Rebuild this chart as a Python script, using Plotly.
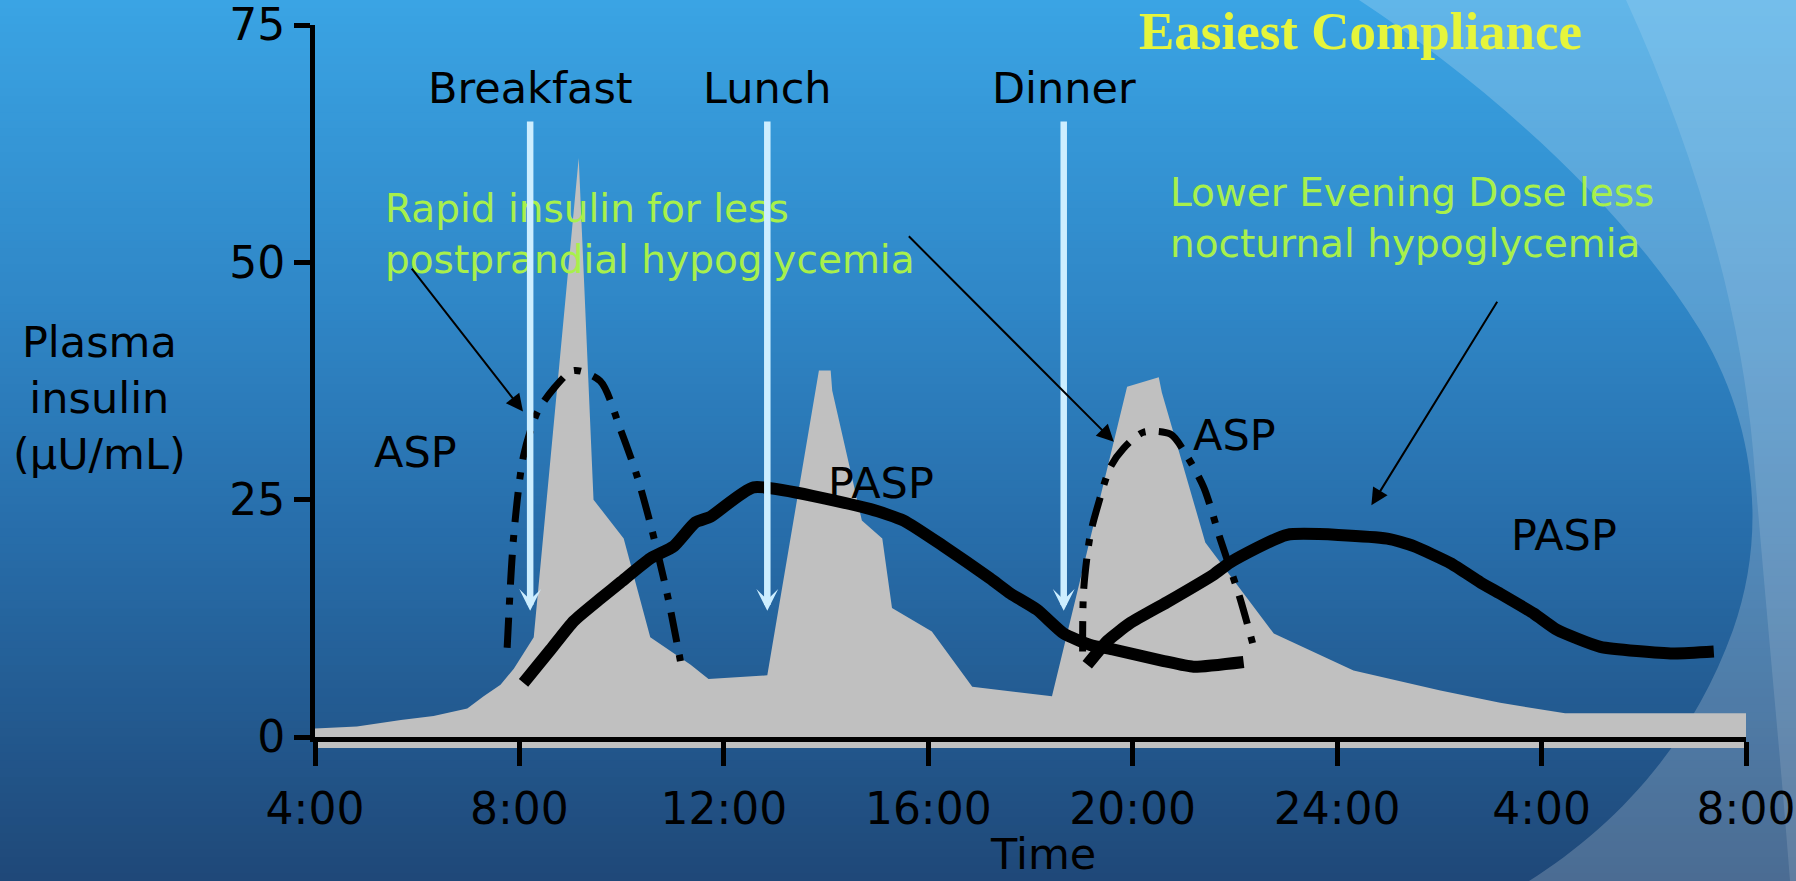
import plotly.graph_objects as go

# ---- time axis: hours from 04:00 (4) to 08:00 the next morning (32) ----
TICK_HOURS = [4, 8, 12, 16, 20, 24, 28, 32]
TICK_TEXT = ["4:00", "8:00", "12:00", "16:00", "20:00", "24:00", "4:00", "8:00"]
Y_TICKS = [0, 25, 50, 75]

# physiological plasma insulin profile (grey area), µU/mL
phys_hours = [4.00, 4.82, 5.68, 6.32, 6.98, 7.30, 7.63, 7.89, 8.28, 9.16, 9.45,
              10.04, 10.56, 11.35, 11.70, 12.85, 13.86, 14.09, 14.12, 14.70,
              15.10, 15.29, 16.07, 16.86, 18.42, 19.89, 20.51, 20.57, 21.42,
              22.76, 24.32, 26.02, 27.19, 28.46, 32.00]
phys_insulin = [0.9, 1.1, 1.8, 2.2, 3.0, 4.3, 5.5, 7.2, 10.5, 61.0, 25.0,
                20.9, 10.5, 7.6, 6.1, 6.5, 38.6, 38.6, 36.5, 22.8,
                20.9, 13.6, 11.1, 5.3, 4.3, 36.9, 37.9, 36.3, 20.5,
                10.9, 7.0, 4.9, 3.6, 2.5, 2.5]

# PASP (premixed aspart), morning dose
pasp_am_hours = [8.08, 8.61, 9.06, 9.59, 9.98, 10.56, 11.02, 11.44, 11.74, 12.58,
                 14.87, 15.52, 16.30, 17.21, 17.61, 18.13, 18.65, 19.17, 19.63,
                 20.61, 21.19, 22.17]
pasp_am_insulin = [5.7, 9.2, 12.2, 14.6, 16.3, 18.8, 20.1, 22.6, 23.2, 26.3,
                   24.0, 22.8, 20.1, 16.7, 15.1, 13.4, 10.9, 9.7, 9.2,
                   8.0, 7.4, 7.9]

# PASP, evening dose
pasp_pm_hours = [19.11, 19.50, 19.95, 20.67, 21.58, 21.91, 23.02, 24.98, 25.50,
                 26.22, 26.80, 27.19, 27.85, 28.30, 29.15, 30.58, 31.37]
pasp_pm_insulin = [7.6, 10.1, 12.0, 14.2, 17.1, 18.4, 21.3, 20.9, 20.1,
                   18.3, 16.3, 15.1, 13.0, 11.3, 9.5, 8.8, 9.0]

# ASP (aspart), breakfast dose
asp_am_hours = [7.76, 7.89, 8.08, 8.35, 8.67, 9.06, 9.58, 9.97, 10.30, 10.56,
                10.89, 11.15]
asp_am_insulin = [9.4, 21.3, 29.6, 34.2, 36.7, 38.6, 37.5, 32.5, 27.5, 22.5,
                  15.1, 8.0]

# ASP, dinner dose
asp_pm_hours = [19.02, 19.04, 19.17, 19.33, 19.56, 19.82, 20.21, 20.74, 21.06,
                21.39, 21.71, 22.10, 22.40]
asp_pm_insulin = [9.0, 15.5, 21.3, 24.6, 28.4, 30.4, 32.1, 31.9, 29.6,
                  26.3, 20.9, 14.6, 8.8]

# meals
meal_names = ["Breakfast", "Lunch", "Dinner"]
meal_hours = [8.21, 12.85, 18.65]
meal_arrow_top = 65.0
meal_arrow_tip = 13.3
meal_label_level = 68.4

# curve labels
curve_labels = ["ASP", "PASP", "ASP", "PASP"]
curve_label_hours = [5.96, 15.08, 22.0, 28.43]
curve_label_levels = [30.0, 26.8, 31.8, 21.3]

# callouts: text, text anchor (hour, level), arrow tail and tip (hour, level)
callout_texts = ["Rapid insulin for less<br>postprandial hypoglycemia",
                 "Lower Evening Dose less<br>nocturnal hypoglycemia"]
callout_pos = [(5.34, 53.0), (20.70, 54.7)]
pointer_tails = [(5.87, 49.5), (15.59, 52.9), (27.15, 46.0)]
pointer_tips = [(8.07, 34.3), (19.63, 31.1), (24.67, 24.4)]

# ---- page geometry ----
W, H = 1796, 881
ML, MR, MT, MB = 315, 50, 25, 144
PW, PH = W - ML - MR, H - MT - MB

BLACK_FONT = "DejaVu Sans"
GREEN = "#a8f04b"


def px_to_paper(px, py):
    """Canvas pixel (origin top-left) to paper coordinates, for backdrop art."""
    return (px - ML) / PW, (H - MB - py) / PH


def lerp_color(stops, t):
    for (t0, c0), (t1, c1) in zip(stops, stops[1:]):
        if t0 <= t <= t1:
            f = (t - t0) / (t1 - t0)
            return "rgb(%d,%d,%d)" % tuple(round(a + (b - a) * f) for a, b in zip(c0, c1))
    return "rgb(%d,%d,%d)" % stops[-1][1]


fig = go.Figure()

# physiological profile
fig.add_trace(go.Scatter(
    x=phys_hours, y=phys_insulin, mode="lines", fill="tozeroy",
    fillcolor="#c0c0c0", line=dict(color="#c0c0c0", width=0),
    hoverinfo="skip", showlegend=False))

# PASP curves (thick solid)
for hx, hy in [(pasp_am_hours, pasp_am_insulin), (pasp_pm_hours, pasp_pm_insulin)]:
    fig.add_trace(go.Scatter(
        x=hx, y=hy, mode="lines",
        line=dict(color="black", width=12, shape="spline", smoothing=0.5),
        showlegend=False, hoverinfo="skip"))

# ASP curves (dash-dot)
for hx, hy in [(asp_am_hours, asp_am_insulin), (asp_pm_hours, asp_pm_insulin)]:
    fig.add_trace(go.Scatter(
        x=hx, y=hy, mode="lines",
        line=dict(color="black", width=7, shape="spline", smoothing=0.8,
                  dash="30px,13px,7px,13px"),
        showlegend=False, hoverinfo="skip"))

# ---- backdrop: vertical gradient plus light swooshes on the right ----
shapes = []
stops = [(0.0, (58, 164, 228)), (0.35, (47, 134, 198)), (0.62, (39, 108, 168)),
         (1.0, (31, 72, 120))]
n_bands = 110
for i in range(n_bands):
    top = H * i / n_bands
    bot = H * (i + 1) / n_bands + 1
    x0, y0 = px_to_paper(0, bot)
    x1, y1 = px_to_paper(W, top)
    shapes.append(dict(type="rect", xref="paper", yref="paper", x0=x0, x1=x1,
                       y0=y0, y1=y1, layer="below", line=dict(width=0),
                       fillcolor=lerp_color(stops, (i + 0.5) / n_bands)))


def path_from(points):
    out = []
    for cmd, pts in points:
        coords = " ".join("%.5f,%.5f" % px_to_paper(*p) for p in pts)
        out.append(cmd + coords)
    return " ".join(out) + " Z"


swoosh_outer = [("M", [(1359, 0)]),
                ("C", [(1480, 80), (1620, 200), (1700, 330)]),
                ("C", [(1760, 430), (1765, 540), (1733, 630)]),
                ("C", [(1690, 750), (1610, 830), (1529, 881)]),
                ("L", [(1796, 881)]), ("L", [(1796, 0)])]
swoosh_band = [("M", [(1626, 0)]),
               ("C", [(1690, 140), (1740, 300), (1753, 450)]),
               ("C", [(1765, 600), (1780, 750), (1790, 881)]),
               ("L", [(1796, 881)]), ("L", [(1796, 0)])]
shapes.append(dict(type="path", xref="paper", yref="paper", path=path_from(swoosh_outer),
                   fillcolor="rgba(255,255,255,0.2)", line=dict(width=0), layer="below"))
shapes.append(dict(type="path", xref="paper", yref="paper", path=path_from(swoosh_band),
                   fillcolor="rgba(255,255,255,0.12)", line=dict(width=0), layer="below"))

# grey base strip just under the time axis
shapes.append(dict(type="rect", xref="paper", yref="paper", x0=0, x1=1,
                   y0=-11.0 / PH, y1=0, fillcolor="#c0c0c0", line=dict(width=0),
                   layer="below"))

annotations = []

# green callout texts
for txt, (cx, cy) in zip(callout_texts, callout_pos):
    annotations.append(dict(x=cx, y=cy, xref="x", yref="y", text=txt, showarrow=False,
                            xanchor="left", yanchor="middle", align="left",
                            font=dict(family=BLACK_FONT, size=39, color=GREEN)))

# meal arrows and labels
for name, mh in zip(meal_names, meal_hours):
    annotations.append(dict(x=mh, y=meal_arrow_tip, ax=mh, ay=meal_arrow_top,
                            xref="x", yref="y", axref="x", ayref="y", text="",
                            showarrow=True, arrowhead=3, arrowsize=0.56,
                            arrowwidth=6.5, arrowcolor="#cdeeff", standoff=0))
    annotations.append(dict(x=mh, y=meal_label_level, xref="x", yref="y", text=name,
                            showarrow=False, xanchor="center", yanchor="middle",
                            font=dict(family=BLACK_FONT, size=43, color="black")))

# curve labels
for lab, lx, ly in zip(curve_labels, curve_label_hours, curve_label_levels):
    annotations.append(dict(x=lx, y=ly, xref="x", yref="y", text=lab, showarrow=False,
                            xanchor="center", yanchor="middle",
                            font=dict(family=BLACK_FONT, size=43, color="black")))

# thin pointer arrows
for (tx, ty), (hx, hy) in zip(pointer_tails, pointer_tips):
    annotations.append(dict(x=hx, y=hy, ax=tx, ay=ty, xref="x", yref="y",
                            axref="x", ayref="y", text="", showarrow=True,
                            arrowhead=2, arrowsize=1.7, arrowwidth=2,
                            arrowcolor="black", standoff=0))

# title, kept inside the top edge
annotations.append(dict(x=0.7305, y=px_to_paper(0, 1)[1], xref="paper", yref="paper",
                        text="<b>Easiest Compliance</b>", showarrow=False,
                        xanchor="center", yanchor="top", borderpad=0,
                        font=dict(family="Liberation Serif", size=53, color="#e6f53c")))

# axis titles
annotations.append(dict(x=-0.1507, y=0.4768, xref="paper", yref="paper",
                        text="Plasma<br>insulin<br>(µU/mL)", showarrow=False,
                        xanchor="center", yanchor="middle", align="center",
                        font=dict(family=BLACK_FONT, size=43, color="black")))
annotations.append(dict(x=0.509, y=px_to_paper(0, H - 1)[1], xref="paper", yref="paper",
                        text="Time", showarrow=False, xanchor="center", yanchor="bottom",
                        borderpad=0,
                        font=dict(family=BLACK_FONT, size=43, color="black")))

fig.update_layout(
    width=W, height=H,
    margin=dict(l=ML, r=MR, t=MT, b=MB, pad=0),
    paper_bgcolor="#1f4878", plot_bgcolor="rgba(0,0,0,0)",
    shapes=shapes, annotations=annotations, showlegend=False,
    xaxis=dict(range=[4, 32], tickvals=TICK_HOURS, ticktext=TICK_TEXT,
               showgrid=False, zeroline=False, showline=True, linecolor="black",
               linewidth=5, ticks="outside", ticklen=24, tickwidth=5,
               tickcolor="black", ticklabelstandoff=5, automargin=False,
               ticklabeloverflow="allow",
               tickfont=dict(family=BLACK_FONT, size=44, color="black"),
               fixedrange=True),
    yaxis=dict(range=[0, 75], tickvals=Y_TICKS, showgrid=False, zeroline=False,
               showline=True, linecolor="black", linewidth=5, ticks="outside",
               ticklen=16, tickwidth=5, tickcolor="black", ticklabelstandoff=0,
               automargin=False, ticklabeloverflow="allow",
               tickfont=dict(family=BLACK_FONT, size=44, color="black"),
               fixedrange=True),
)

fig.write_html("out.html")
